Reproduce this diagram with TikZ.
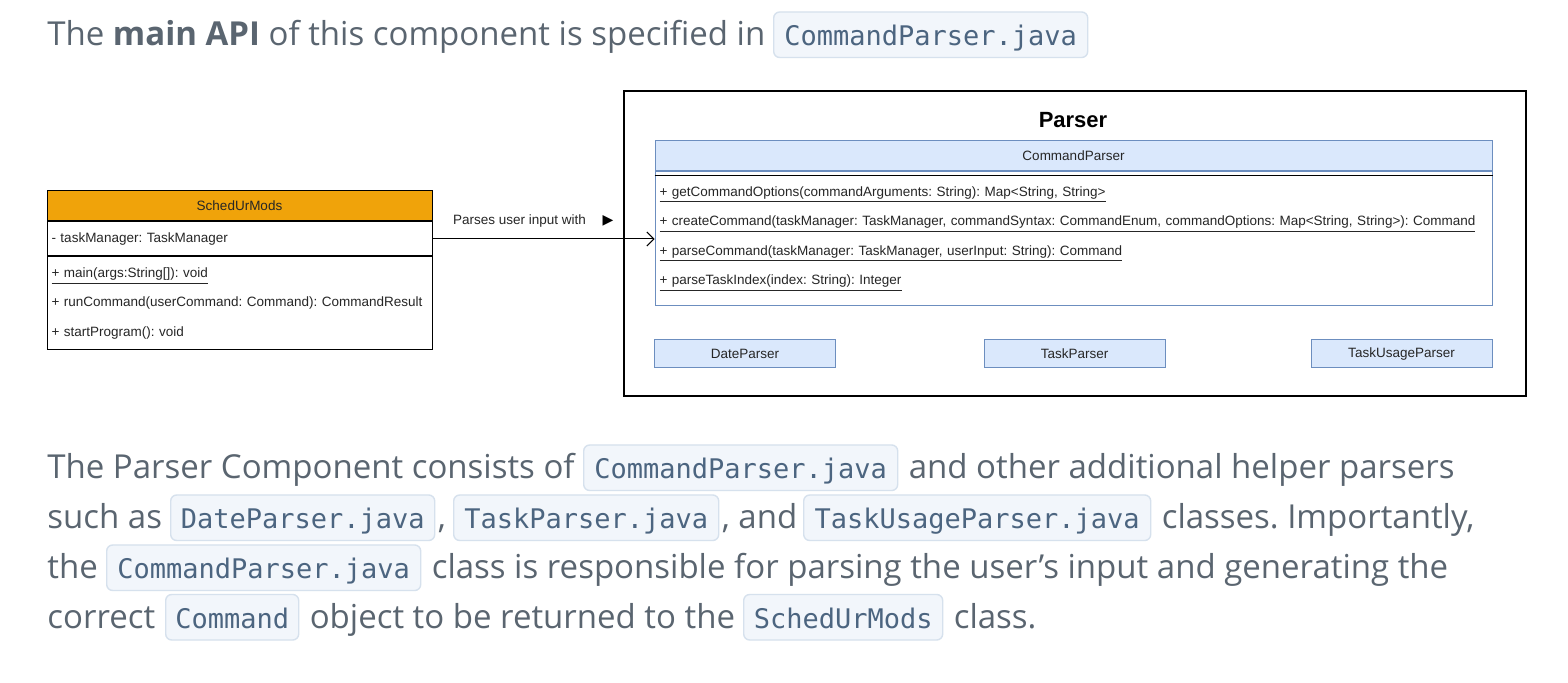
\documentclass[tikz,border=0pt]{standalone}
\usepackage{fontspec}
\setmainfont{Open Sans}
\newfontfamily\codefont{DejaVu Sans Mono}
\newfontfamily\umlfont{Liberation Sans}
\newfontfamily\symfont{DejaVu Sans}
\usetikzlibrary{arrows.meta, positioning}
\frenchspacing

\definecolor{bodygrey}{HTML}{5A6570}
\definecolor{codeblue}{HTML}{4C6580}
\definecolor{codebg}{HTML}{F2F6FB}
\definecolor{codeline}{HTML}{D6E1ED}
\definecolor{schedorange}{HTML}{F0A30A}
\definecolor{parserblue}{HTML}{DAE8FC}
\definecolor{parserline}{HTML}{6C8EBF}

\begin{document}
\begin{tikzpicture}[x=0.5pt, y=-0.5pt]
\tikzstyle{prose}=[anchor=base west, inner sep=0pt, text=bodygrey, font=\fontsize{16.5}{20}\selectfont]
\tikzstyle{code}=[anchor=base west, draw=codeline, fill=codebg, rounded corners=3pt, line width=0.7pt, text=codeblue, inner sep=0pt, text height=16.75pt, text depth=6pt, font=\codefont\fontsize{13.5}{16}\selectfont]
\tikzstyle{uml}=[draw, line width=0.5pt, inner sep=0pt, text=black!85, font=\umlfont\fontsize{6.75}{8}\selectfont]
\tikzstyle{umlhead}=[uml, minimum height=15pt]
\tikzstyle{ops}=[uml, anchor=north, align=left, font=\umlfont\fontsize{6.75}{14.75}\selectfont]
\tikzstyle{helper}=[uml, draw=parserline, fill=parserblue, minimum width=90.5pt, minimum height=14pt]

\fill[white] (0,0) rectangle (1568,683);
\useasboundingbox (0,0) rectangle (1568,683);

% Intro line
\node[prose] (intro) at (47,45.5) {The \textbf{main API} of this component is specified in};
\node[code, minimum width=157pt] (intro-cp) at (773,45.5) {CommandParser.java};

% SchedUrMods class
\node[umlhead, fill=schedorange, minimum width=192.5pt] (sched) at (239.5,206) {SchedUrMods};
\node[uml, anchor=north, minimum width=192.5pt, minimum height=17pt, text width=188pt, align=left] (sched-attr) at (sched.south) {- taskManager: TaskManager};
\node[ops, minimum width=192.5pt, minimum height=46.5pt, text width=188pt] (sched-ops) at (sched-attr.south)
  {\underline{+ main(args:String[]): void}\\
   + runCommand(userCommand: Command): CommandResult\\
   + startProgram(): void};

% Parser component
\node[draw, line width=1pt, minimum width=451pt, minimum height=152.5pt] (frame) at (1075,243.5) {};
\node[font=\umlfont\bfseries\fontsize{11}{13}\selectfont] (title) at (1073,120) {Parser};
\node[umlhead, draw=parserline, fill=parserblue, minimum width=418.5pt] (cp) at (1073.5,156) {CommandParser};
\node[ops, draw=parserline, minimum width=418.5pt, minimum height=67pt, text width=414pt] (cp-ops) at (cp.south)
  {\underline{+ getCommandOptions(commandArguments: String): Map<String, String>}\\
   \underline{+ createCommand(taskManager: TaskManager, commandSyntax: CommandEnum, commandOptions: Map<String, String>): Command}\\
   \underline{+ parseCommand(taskManager: TaskManager, userInput: String): Command}\\
   \underline{+ parseTaskIndex(index: String): Integer}};
\draw[line width=0.6pt] ([yshift=-2pt]cp-ops.north west) -- ([yshift=-2pt]cp-ops.north east);

% Helper parsers
\node[helper] (date) at (745,354) {DateParser};
\node[helper] (task) at (1074.5,354) {TaskParser};
\node[helper] (usage) at (1401.5,354) {TaskUsageParser};

% Connector
\draw[-{Straight Barb[length=3.5pt,width=7pt]}, line width=0.5pt] (sched-attr.east) -- (sched-attr.east -| cp-ops.west);
\node[font=\umlfont\fontsize{6.75}{8}\selectfont, text=black!85] (uses) at (519.5,221) {Parses user input with};
\node[font=\symfont\fontsize{7}{8}\selectfont, inner sep=0pt] (uses-dir) at (608,221) {▶};

% Paragraph
\node[prose] (l1-a) at (47,478.5) {The Parser Component consists of};
\node[code, minimum width=157pt] (l1-cp) at (583,478.5) {CommandParser.java};
\node[prose, base right=5pt of l1-cp] (l1-b) {and other additional helper parsers};

\node[prose] (l2-a) at (47,528.5) {such as};
\node[code, minimum width=132pt] (l2-date) at (170,528.5) {DateParser.java};
\node[prose, base right=1pt of l2-date] (l2-b) {,};
\node[code, minimum width=132.5pt] (l2-task) at (453,528.5) {TaskParser.java};
\node[prose, base right=1pt of l2-task] (l2-c) {, and};
\node[code, minimum width=173.5pt] (l2-usage) at (803,528.5) {TaskUsageParser.java};
\node[prose, base right=5pt of l2-usage] (l2-d) {classes. Importantly,};

\node[prose] (l3-a) at (47,578.5) {the};
\node[code, minimum width=157pt] (l3-cp) at (106,578.5) {CommandParser.java};
\node[prose, base right=5pt of l3-cp] (l3-b) {class is responsible for parsing the user’s input and generating the};

\node[prose] (l4-a) at (47,628) {correct};
\node[code, minimum width=66.5pt] (l4-cmd) at (165,628) {Command};
\node[prose, base right=5pt of l4-cmd] (l4-b) {object to be returned to the};
\node[code, minimum width=99.5pt] (l4-sched) at (743,628) {SchedUrMods};
\node[prose, base right=5pt of l4-sched] (l4-c) {class.};

\end{tikzpicture}
\end{document}
